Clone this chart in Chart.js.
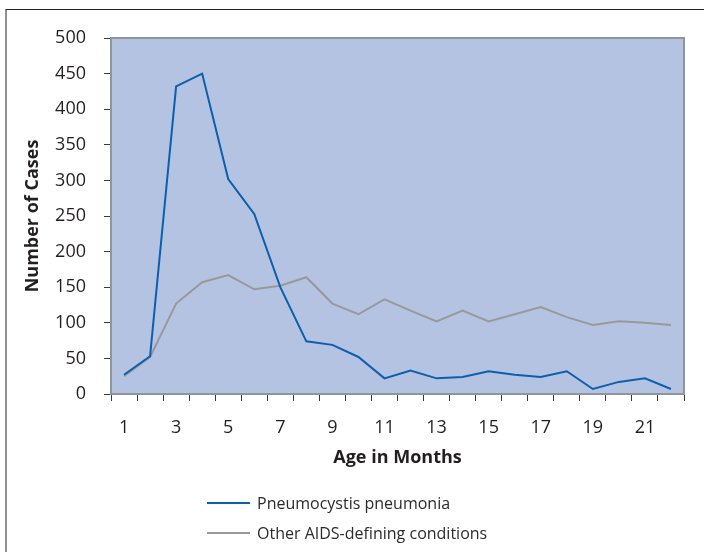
<!DOCTYPE html>
<html>
<head>
<meta charset="utf-8">
<script src="https://cdn.jsdelivr.net/npm/chart.js@4/dist/chart.umd.min.js"></script>
<style>
    html, body { margin: 0; padding: 0; background: #ffffff; }
    body { width: 704px; height: 552px; position: relative; overflow: hidden; font-family: "Open Sans", sans-serif; }
    #frame { position: absolute; left: 5px; top: 9px; width: 800px; height: 700px; border-top: 1px solid #222; border-left: 2px solid #909090; }
    #wrap { position: absolute; left: 0; top: 0; width: 704px; height: 552px; }
    #legend { position: absolute; left: 207px; top: 488px; }
    .legend-row { display: flex; align-items: center; height: 30px; font-size: 16px; color: #2b2b2b; }
    .legend-line { width: 43px; height: 2px; margin-right: 7px; }
</style>
</head>
<body>
<div id="frame"></div>
<div id="wrap"><canvas id="chart" width="704" height="552"></canvas></div>
<div id="legend"></div>
<script>
const MONTHS = [1, 2, 3, 4, 5, 6, 7, 8, 9, 10, 11, 12, 13, 14, 15, 16, 17, 18, 19, 20, 21, 22];
const PCP_CASES = [27, 53, 432, 450, 302, 253, 150, 74, 69, 52, 22, 33, 22, 24, 32, 27, 24, 32, 7, 17, 22, 7];
const OTHER_CASES = [25, 52, 127, 157, 167, 147, 152, 164, 127, 112, 133, 117, 102, 117, 102, 112, 122, 108, 97, 102, 100, 97];
const SERIES_NAMES = ['Pneumocystis pneumonia', 'Other AIDS-defining conditions'];
const SERIES_COLORS = ['#0b5fae', '#999999'];
const Y_MAX = 500;
const Y_STEP = 50;

const TEXT_COLOR = '#231f20';
const AXIS_COLOR = '#3a3a3a';

// fills the plot area and draws its grey frame before the lines
const plotBackground = {
    id: 'plotBackground',
    beforeDatasetsDraw(chart) {
        const { ctx, chartArea } = chart;
        const { left, top, right, bottom } = chartArea;
        ctx.save();
        ctx.fillStyle = '#b5c3e2';
        ctx.fillRect(left, top, right - left, bottom - top);
        ctx.strokeStyle = '#8e959e';
        ctx.lineWidth = 2;
        ctx.strokeRect(left, top, right - left, bottom - top);
        ctx.restore();
    }
};

function buildLegend() {
    const legend = document.getElementById('legend');
    SERIES_NAMES.forEach((name, idx) => {
        const row = document.createElement('div');
        row.className = 'legend-row';
        row.innerHTML = `<span class="legend-line" style="background:${SERIES_COLORS[idx]}"></span><span>${name}</span>`;
        legend.appendChild(row);
    });
}

const ctx = document.getElementById('chart').getContext('2d');
new Chart(ctx, {
    type: 'line',
    data: {
        labels: MONTHS,
        datasets: [
            {
                label: SERIES_NAMES[0],
                data: PCP_CASES,
                borderColor: SERIES_COLORS[0],
                borderWidth: 2,
                pointRadius: 0,
                tension: 0,
            },
            {
                label: SERIES_NAMES[1],
                data: OTHER_CASES,
                borderColor: SERIES_COLORS[1],
                borderWidth: 2,
                pointRadius: 0,
                tension: 0,
            }
        ]
    },
    options: {
        responsive: false,
        animation: false,
        layout: { padding: { top: 38, right: 20, bottom: 83, left: 0 } },
        plugins: {
            legend: { display: false },
            tooltip: { enabled: false }
        },
        scales: {
            x: {
                offset: true,
                grid: { offset: true, drawOnChartArea: false, drawTicks: true, tickLength: 7, color: AXIS_COLOR },
                border: { color: AXIS_COLOR, width: 2 },
                ticks: {
                    autoSkip: false,
                    maxRotation: 0,
                    padding: 16,
                    color: TEXT_COLOR,
                    font: { family: 'Open Sans', size: 18 },
                    callback: (value, idx) => (idx % 2 === 0 ? MONTHS[idx] : '')
                },
                title: {
                    display: true,
                    text: 'Age in Months',
                    color: TEXT_COLOR,
                    font: { family: 'Open Sans', size: 18, weight: 'bold' },
                    padding: { top: 0, bottom: 0 }
                },
                afterFit(scale) { scale.height = 75; }
            },
            y: {
                min: 0,
                max: Y_MAX,
                grid: { drawOnChartArea: false, drawTicks: true, tickLength: 7, color: AXIS_COLOR },
                border: { color: AXIS_COLOR, width: 2 },
                ticks: {
                    stepSize: Y_STEP,
                    padding: 18,
                    color: TEXT_COLOR,
                    font: { family: 'Open Sans', size: 18 }
                },
                title: {
                    display: true,
                    text: 'Number of Cases',
                    color: TEXT_COLOR,
                    font: { family: 'Open Sans', size: 18, weight: 'bold' },
                    padding: { top: 22, bottom: 0 }
                },
                afterFit(scale) { scale.width = 111; }
            }
        }
    },
    plugins: [plotBackground]
});

buildLegend();
</script>
</body>
</html>
